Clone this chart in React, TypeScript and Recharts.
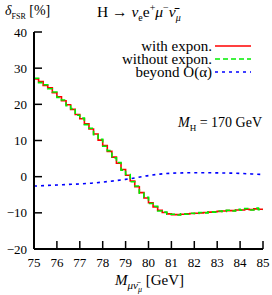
import React from "react";
import { LineChart, Line, XAxis, YAxis } from "recharts";

const binEdges = [
  75.0, 75.2, 75.4, 75.6, 75.8, 76.0, 76.2, 76.4, 76.6, 76.8,
  77.0, 77.2, 77.4, 77.6, 77.8, 78.0, 78.2, 78.4, 78.6, 78.8,
  79.0, 79.2, 79.4, 79.6, 79.8, 80.0, 80.2, 80.4, 80.6, 80.8,
  81.0, 81.2, 81.4, 81.6, 81.8, 82.0, 82.2, 82.4, 82.6, 82.8,
  83.0, 83.2, 83.4, 83.6, 83.8, 84.0, 84.2, 84.4, 84.6, 84.8, 85.0,
];

const withExpon = [
  27.0, 26.3, 25.2, 24.6, 23.2, 22.1, 21.0, 19.9, 18.6, 17.2,
  16.0, 14.6, 13.2, 11.8, 10.1, 8.6, 7.0, 5.4, 3.7, 2.0,
  0.4, -1.2, -2.8, -4.4, -5.9, -7.2, -8.4, -9.3, -9.9, -10.3,
  -10.5, -10.5, -10.4, -10.3, -10.2, -10.1, -10.0, -9.9, -9.8, -9.7,
  -9.6, -9.5, -9.4, -9.4, -9.2, -9.2, -9.0, -9.1, -8.9, -9.0, -9.0,
];

const withoutExpon = [
  27.2, 26.0, 25.4, 24.3, 23.4, 21.9, 21.2, 19.6, 18.8, 17.0,
  16.2, 14.4, 13.4, 11.6, 10.3, 8.4, 7.2, 5.2, 3.9, 1.8,
  0.6, -1.4, -2.6, -4.6, -5.7, -7.4, -8.2, -9.5, -9.8, -10.4,
  -10.4, -10.6, -10.3, -10.4, -10.1, -10.2, -9.9, -10.0, -9.7, -9.8,
  -9.5, -9.6, -9.3, -9.5, -9.0, -9.3, -8.8, -9.2, -8.7, -9.1, -9.1,
];

const beyondX = [
  75, 75.5, 76, 76.5, 77, 77.5, 78, 78.5, 79, 79.5, 80,
  80.5, 81, 81.5, 82, 82.5, 83, 83.5, 84, 84.5, 85,
];
const beyondY = [
  -2.6, -2.45, -2.3, -2.15, -2.0, -1.8, -1.5, -1.15, -0.75, -0.25, 0.3,
  0.7, 0.95, 1.05, 1.1, 1.1, 1.05, 1.0, 0.9, 0.75, 0.6,
];

const xTicks = [75, 76, 77, 78, 79, 80, 81, 82, 83, 84, 85];
const yTicks = [-20, -10, 0, 10, 20, 30, 40];

const histData = binEdges.map((x, i) => ({ x, red: withExpon[i], green: withoutExpon[i] }));
const beyondData = beyondX.map((x, i) => ({ x, blue: beyondY[i] }));

const FONT = "'Liberation Serif', 'DejaVu Serif', serif";
const fmt = (v: number) => String(v).replace("-", "\u2212");
const TICK_LEN = 8;

const BottomTick = (p: any) => (
  <g>
    <line x1={p.x} y1={p.y} x2={p.x} y2={p.y - TICK_LEN} stroke="#000" strokeWidth={1.5} />
    <text x={p.x} y={p.y + 18} textAnchor="middle" fontSize={13} fontFamily={FONT} fill="#000">
      {fmt(p.payload.value)}
    </text>
  </g>
);
const TopTick = (p: any) => (
  <line x1={p.x} y1={p.y} x2={p.x} y2={p.y + TICK_LEN} stroke="#000" strokeWidth={1.5} />
);
const LeftTick = (p: any) => (
  <g>
    <line x1={p.x} y1={p.y} x2={p.x + TICK_LEN} y2={p.y} stroke="#000" strokeWidth={1.5} />
    <text x={p.x - 7} y={p.y} dy="0.35em" textAnchor="end" fontSize={13} fontFamily={FONT} fill="#000">
      {fmt(p.payload.value)}
    </text>
  </g>
);
const RightTick = (p: any) => (
  <line x1={p.x} y1={p.y} x2={p.x - TICK_LEN} y2={p.y} stroke="#000" strokeWidth={1.5} />
);

const legendRows = [
  { label: "with expon.", color: "#ff0000", dash: "", top: 40 },
  { label: "without expon.", color: "#00ee00", dash: "5 3", top: 53 },
  { label: "beyond O(α)", color: "#0000ff", dash: "3 4", top: 66 },
];

export default function App() {
  const axisLine = { stroke: "#000", strokeWidth: 2 };
  return (
    <div style={{ position: "absolute", left: 0, top: 0, width: 272, height: 295, fontFamily: FONT, color: "#000" }}>
      <LineChart width={272} height={295} margin={{ top: 32, right: 9, bottom: 0, left: 0 }}>
        <XAxis
          xAxisId="b"
          dataKey="x"
          type="number"
          domain={[75, 85]}
          ticks={xTicks}
          orientation="bottom"
          height={46}
          tickSize={0}
          tickMargin={0}
          axisLine={axisLine}
          tickLine={false}
          tick={<BottomTick />}
          interval={0}
        />
        <XAxis
          xAxisId="t"
          dataKey="x"
          type="number"
          domain={[75, 85]}
          ticks={xTicks}
          orientation="top"
          height={0}
          tickSize={0}
          tickMargin={0}
          axisLine={axisLine}
          tickLine={false}
          tick={<TopTick />}
          interval={0}
        />
        <YAxis
          yAxisId="l"
          type="number"
          domain={[-20, 40]}
          ticks={yTicks}
          orientation="left"
          width={34}
          tickSize={0}
          tickMargin={0}
          axisLine={axisLine}
          tickLine={false}
          tick={<LeftTick />}
          interval={0}
        />
        <YAxis
          yAxisId="r"
          type="number"
          domain={[-20, 40]}
          ticks={yTicks}
          orientation="right"
          width={0}
          tickSize={0}
          tickMargin={0}
          axisLine={axisLine}
          tickLine={false}
          tick={<RightTick />}
          interval={0}
        />
        <Line
          xAxisId="b"
          yAxisId="l"
          data={beyondData}
          dataKey="blue"
          type="monotone"
          stroke="#0000ff"
          strokeWidth={1.6}
          strokeDasharray="3 4"
          dot={false}
          isAnimationActive={false}
        />
        <Line
          xAxisId="b"
          yAxisId="l"
          data={histData}
          dataKey="red"
          type="stepAfter"
          stroke="#ff0000"
          strokeWidth={1.6}
          dot={false}
          isAnimationActive={false}
        />
        <Line
          xAxisId="b"
          yAxisId="l"
          data={histData}
          dataKey="green"
          type="stepAfter"
          stroke="#00ee00"
          strokeWidth={1.6}
          strokeDasharray="5 3"
          dot={false}
          isAnimationActive={false}
        />
      </LineChart>

      {/* titles */}
      <div style={{ position: "absolute", left: 5, top: 3, fontSize: 14, whiteSpace: "nowrap" }}>
        <i>δ</i>
        <sub style={{ fontSize: 8 }}>FSR</sub> [%]
      </div>
      <div style={{ position: "absolute", left: 97, top: 2, fontSize: 15.5, whiteSpace: "nowrap" }}>
        H → <i>ν</i>
        <sub style={{ fontSize: 10 }}>e</sub>e<sup style={{ fontSize: 10 }}>+</sup>
        <i>μ</i>
        <sup style={{ fontSize: 10 }}>−</sup>
        <i>ν̄</i>
        <sub style={{ fontSize: 10 }}>
          <i>μ</i>
        </sub>
      </div>

      {/* legend */}
      {legendRows.map((r, i) => (
        <div key={i} style={{ position: "absolute", left: 80, top: r.top, width: 172, height: 12, fontSize: 15 }}>
          <div style={{ position: "absolute", right: 40, top: 0, whiteSpace: "nowrap", lineHeight: "12px" }}>{r.label}</div>
          <svg style={{ position: "absolute", right: 1, top: 0 }} width={36} height={12}>
            <line x1={0} y1={6} x2={36} y2={6} stroke={r.color} strokeWidth={1.6} strokeDasharray={r.dash || undefined} />
          </svg>
        </div>
      ))}

      <div style={{ position: "absolute", left: 178, top: 115, fontSize: 14, whiteSpace: "nowrap" }}>
        <i>M</i>
        <sub style={{ fontSize: 9 }}>H</sub> = 170 GeV
      </div>

      <div style={{ position: "absolute", left: 115, top: 272, fontSize: 15, whiteSpace: "nowrap" }}>
        <i>M</i>
        <sub style={{ fontSize: 11 }}>
          <i>μν̄</i>
          <sub style={{ fontSize: 8 }}>
            <i>μ</i>
          </sub>
        </sub>{" "}
        [GeV]
      </div>
    </div>
  );
}
